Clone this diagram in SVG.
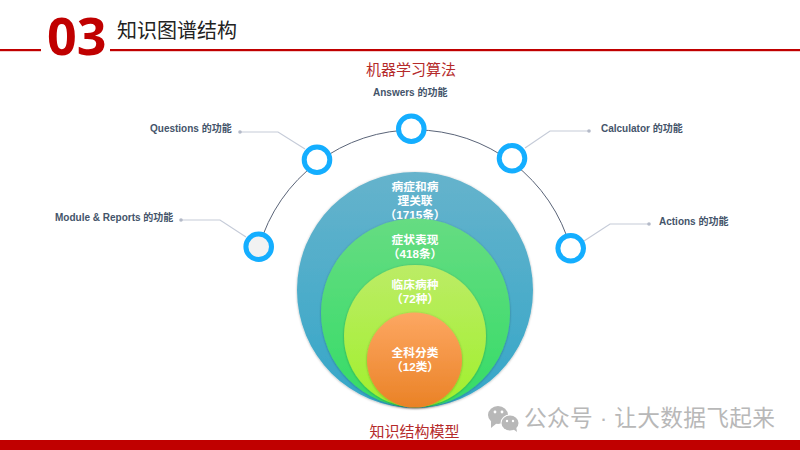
<svg xmlns="http://www.w3.org/2000/svg" width="800" height="450" viewBox="0 0 800 450">
<style>
text{font-family:"Liberation Sans","Noto Sans CJK SC",sans-serif}
.lbl{font-size:10px;font-weight:700;fill:#44546a}
.in{font-size:11.7px;font-weight:700;fill:#fff;text-anchor:middle}
.cap{font-size:15px;fill:#b52a2a;text-anchor:middle;font-family:"Noto Sans CJK SC",sans-serif}
.ring{fill:#fff;stroke:#14aeff;stroke-width:5}
.lead{fill:none;stroke:#c5cbd8;stroke-width:1.2}
.dot{fill:#b4bac8}
.wm{fill:#b8b8b8}
</style>
<defs>
<linearGradient id="gb" x1="0" y1="0" x2="0" y2="1"><stop offset="0" stop-color="#66b3cc"/><stop offset="1" stop-color="#34a6c8"/></linearGradient>
<linearGradient id="gg" x1="0" y1="0" x2="0" y2="1"><stop offset="0" stop-color="#66dc82"/><stop offset="1" stop-color="#34dc66"/></linearGradient>
<linearGradient id="gl" x1="0" y1="0" x2="0" y2="1"><stop offset="0" stop-color="#bcec66"/><stop offset="1" stop-color="#a0f02c"/></linearGradient>
<linearGradient id="go" x1="0" y1="0" x2="0" y2="1"><stop offset="0" stop-color="#fda762"/><stop offset="1" stop-color="#ea8226"/></linearGradient>
<filter id="sh" x="-10%" y="-10%" width="120%" height="120%"><feDropShadow dx="0" dy="0.5" stdDeviation="0.8" flood-color="#000" flood-opacity="0.3"/></filter>
</defs>

<g id="header">
<rect x="0" y="49" width="41" height="2.2" fill="#c00000"/>
<rect x="110" y="49" width="690" height="2.2" fill="#c00000"/>
<text x="47" y="55" font-size="52" font-weight="700" fill="#c00000" style="font-family:'Open Sans',sans-serif">03</text>
<text x="117" y="38" font-size="20" fill="#222" style="font-family:'Noto Sans CJK SC',sans-serif">知识图谱结构</text>
</g>
<rect id="footer" x="0" y="440" width="800" height="10" fill="#c00000"/>
<text id="top-caption" class="cap" x="411" y="75">机器学习算法</text>
<text id="bottom-caption" class="cap" x="414.500" y="437">知识结构模型</text>

<g id="connectors">
<path d="M259 247A162 162 0 0 1 570.700 248.300" fill="none" stroke="#5a6478" stroke-width="1"/>
<path class="lead" d="M181 220H220L246 237"/>
<path class="lead" d="M240 132H278L305 149"/>
<path class="lead" d="M589 131H550L525 148"/>
<path class="lead" d="M649 224H610L584 241"/>
<circle class="dot" cx="181" cy="220" r="1.800"/>
<circle class="dot" cx="240" cy="132" r="1.800"/>
<circle class="dot" cx="589" cy="131" r="1.800"/>
<circle class="dot" cx="649" cy="224" r="1.800"/>
</g>

<g id="circle-disease"><circle cx="415" cy="290" r="118" fill="url(#gb)" filter="url(#sh)"/>
<text class="in" x="415" y="191">病症和病</text><text class="in" x="415" y="205">理关联</text><text class="in" x="415" y="219">（1715条）</text></g>
<g id="circle-symptom"><circle cx="415.500" cy="313" r="94.500" fill="url(#gg)" filter="url(#sh)"/>
<text class="in" x="415" y="244">症状表现</text><text class="in" x="415" y="258">（418条）</text></g>
<g id="circle-clinical"><circle cx="415" cy="336" r="71" fill="url(#gl)" filter="url(#sh)"/>
<text class="in" x="415" y="289">临床病种</text><text class="in" x="415" y="303">（72种）</text></g>
<g id="circle-category"><circle cx="414.500" cy="360" r="47.500" fill="url(#go)" filter="url(#sh)"/>
<text class="in" x="415" y="357">全科分类</text><text class="in" x="415" y="371">（12类）</text></g>

<g id="node-module"><circle class="ring" cx="258.700" cy="246.700" r="12.800" style="fill:#f2f2f2"/><text class="lbl" x="55" y="221">Module &amp; Reports 的功能</text></g>
<g id="node-questions"><circle class="ring" cx="317" cy="159.700" r="12.800"/><text class="lbl" x="150" y="132">Questions 的功能</text></g>
<g id="node-answers"><circle class="ring" cx="411.300" cy="128.700" r="12.800"/><text class="lbl" x="373" y="96">Answers 的功能</text></g>
<g id="node-calculator"><circle class="ring" cx="512" cy="158.300" r="12.800"/><text class="lbl" x="601" y="132">Calculator 的功能</text></g>
<g id="node-actions"><circle class="ring" cx="570.700" cy="248.300" r="12.800"/><text class="lbl" x="659" y="225">Actions 的功能</text></g>

<g id="watermark">
<ellipse class="wm" cx="498" cy="415" rx="10" ry="9"/>
<path class="wm" d="M491 421L491 428L497 423Z"/>
<ellipse cx="510" cy="423" rx="9.500" ry="8.500" fill="#fff"/>
<ellipse class="wm" cx="510" cy="423" rx="8.500" ry="7.500"/>
<path class="wm" d="M513 429L517 432L516 426Z"/>
<circle cx="495" cy="412" r="1.400" fill="#fff"/><circle cx="502" cy="412" r="1.400" fill="#fff"/>
<circle cx="507" cy="421" r="1.200" fill="#fff"/><circle cx="513" cy="421" r="1.200" fill="#fff"/>
<text class="wm" x="524" y="426" font-size="22.700" textLength="251" lengthAdjust="spacing">公众号 · 让大数据飞起来</text>
</g>
</svg>
